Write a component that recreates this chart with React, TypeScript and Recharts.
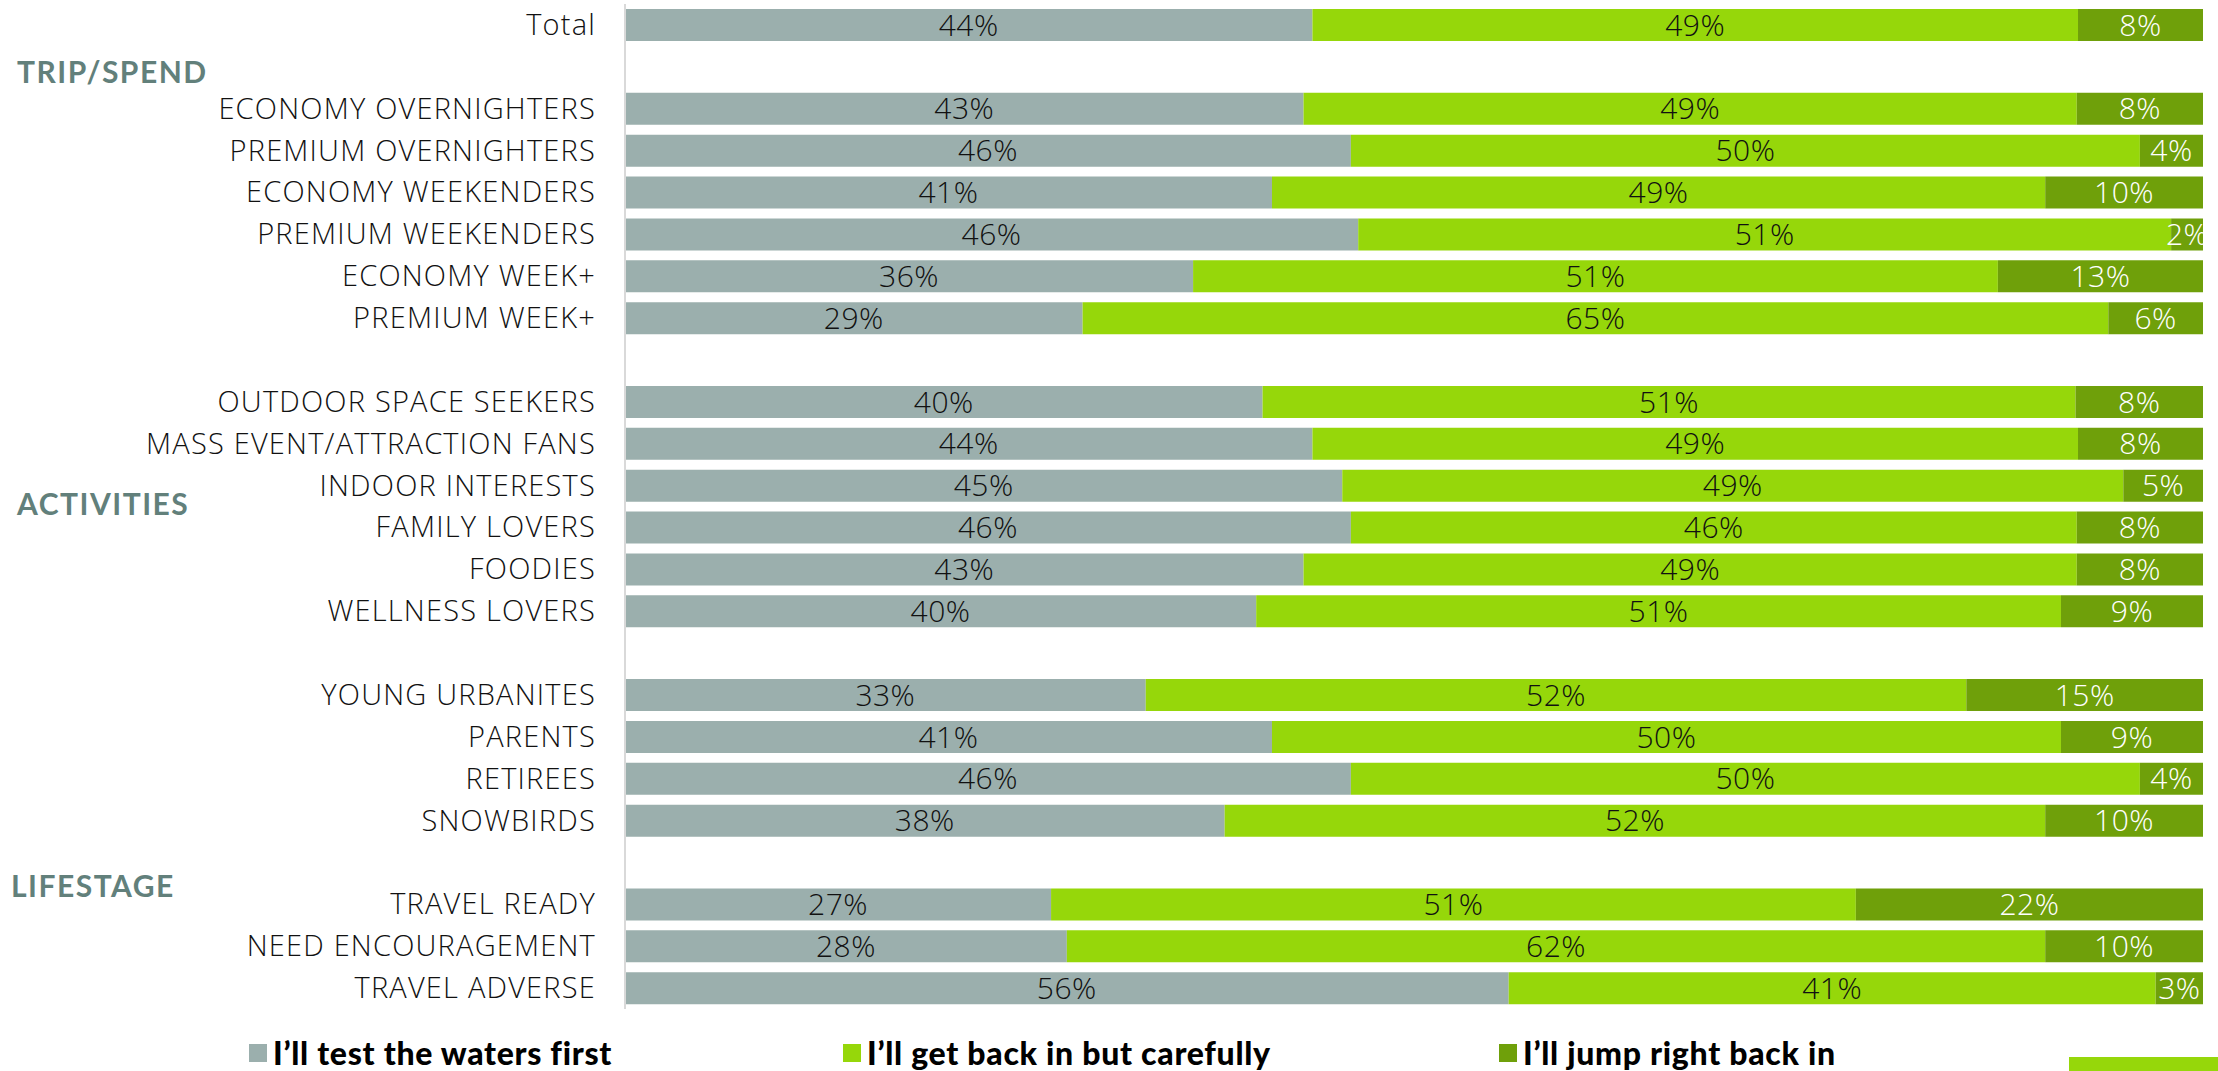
import React from "react";
import { BarChart, Bar, XAxis, YAxis, LabelList } from "recharts";

const categories = [
  "Total", "", "ECONOMY OVERNIGHTERS", "PREMIUM OVERNIGHTERS", "ECONOMY WEEKENDERS",
  "PREMIUM WEEKENDERS", "ECONOMY WEEK+", "PREMIUM WEEK+", "",
  "OUTDOOR SPACE SEEKERS", "MASS EVENT/ATTRACTION FANS", "INDOOR INTERESTS", "FAMILY LOVERS",
  "FOODIES", "WELLNESS LOVERS", "", "YOUNG URBANITES", "PARENTS", "RETIREES", "SNOWBIRDS", "",
  "TRAVEL READY", "NEED ENCOURAGEMENT", "TRAVEL ADVERSE",
];
const testWaters = [44, null, 43, 46, 41, 46, 36, 29, null, 40, 44, 45, 46, 43, 40, null, 33, 41, 46, 38, null, 27, 28, 56];
const backCarefully = [49, null, 49, 50, 49, 51, 51, 65, null, 51, 49, 49, 46, 49, 51, null, 52, 50, 50, 52, null, 51, 62, 41];
const jumpBack = [8, null, 8, 4, 10, 2, 13, 6, null, 8, 8, 5, 8, 8, 9, null, 15, 9, 4, 10, null, 22, 10, 3];

const seriesNames = ["I\u2019ll test the waters first", "I\u2019ll get back in but carefully", "I\u2019ll jump right back in"];
const seriesColors = ["#9BAFAD", "#96D70A", "#6FA00A"];
const groupLabels = [
  { text: "TRIP/SPEND", top: 71, left: 17 },
  { text: "ACTIVITIES", top: 503, left: 17 },
  { text: "LIFESTAGE", top: 885, left: 11 },
];

const data = categories.map((c, i) => ({
  id: "r" + i,
  name: c,
  a: testWaters[i],
  b: backCarefully[i],
  c: jumpBack[i],
}));

const FONT = "'Open Sans', 'Noto Sans', sans-serif";

const fmt = (v: any) => (v === null || v === undefined || v === 0 ? "" : `${v}%`);

const Tick = (props: any) => {
  const { x, y, payload } = props;
  const row = data.find((d) => d.id === payload.value);
  return (
    <text x={x} y={y} dy={10} textAnchor="end" fill="#111" fontSize={29} fontFamily={FONT} fontWeight={300} letterSpacing={1.2}>
      {row ? row.name : ""}
    </text>
  );
};

const LegendContent = () => (
  <div style={{ position: "relative", width: 2218, height: 32 }}>
    {[249, 843, 1499].map((left, i) => (
      <div key={i} style={{ position: "absolute", left, top: 0, display: "flex", alignItems: "center", height: 32 }}>
        <div style={{ width: 18, height: 18, background: seriesColors[i], marginRight: 6 }} />
        <span style={{ fontFamily: "Lato, sans-serif", fontWeight: 900, fontSize: 32, lineHeight: "32px", letterSpacing: 0.7, color: "#000", whiteSpace: "nowrap" }}>
          {seriesNames[i]}
        </span>
      </div>
    ))}
  </div>
);

const labelProps = { fontSize: 30, fontFamily: FONT, fontWeight: 300, letterSpacing: 0.5 } as any;

export default function App() {
  return (
    <div style={{ position: "fixed", left: 0, top: 0, width: 2218, height: 1071, background: "#fff", overflow: "hidden" }}>
      <BarChart
        width={2218}
        height={1071}
        data={data}
        layout="vertical"
        stackOffset="expand"
        barCategoryGap={5}
        margin={{ top: 4, right: 15, bottom: 62, left: 0 }}
      >
        <XAxis type="number" hide domain={[0, 1]} />
        <YAxis
          type="category"
          dataKey="id"
          width={625}
          tickLine={false}
          tickSize={0}
          tickMargin={29}
          axisLine={{ stroke: "#D9D9D9", strokeWidth: 2 }}
          tick={<Tick />}
          interval={0}
        />
        <Bar dataKey="a" stackId="s" fill={seriesColors[0]} isAnimationActive={false}>
          <LabelList dataKey="a" position="center" formatter={fmt} fill="#111" {...labelProps} />
        </Bar>
        <Bar dataKey="b" stackId="s" fill={seriesColors[1]} isAnimationActive={false}>
          <LabelList dataKey="b" position="center" formatter={fmt} fill="#111" {...labelProps} />
        </Bar>
        <Bar dataKey="c" stackId="s" fill={seriesColors[2]} isAnimationActive={false}>
          <LabelList dataKey="c" position="center" formatter={fmt} fill="#fff" {...labelProps} />
        </Bar>
      </BarChart>
      {groupLabels.map((g) => (
        <div
          key={g.text}
          style={{
            position: "absolute",
            left: g.left,
            top: g.top - 19,
            fontFamily: "Lato, sans-serif",
            fontWeight: 700,
            fontSize: 30,
            letterSpacing: 1.5,
            color: "#62807B",
            lineHeight: "38px",
            whiteSpace: "nowrap",
          }}
        >
          {g.text}
        </div>
      ))}
      <div style={{ position: "absolute", left: 0, top: 1037 }}>
        <LegendContent />
      </div>
      <div style={{ position: "absolute", left: 2069, top: 1057, width: 149, height: 14, background: seriesColors[1] }} />
    </div>
  );
}
